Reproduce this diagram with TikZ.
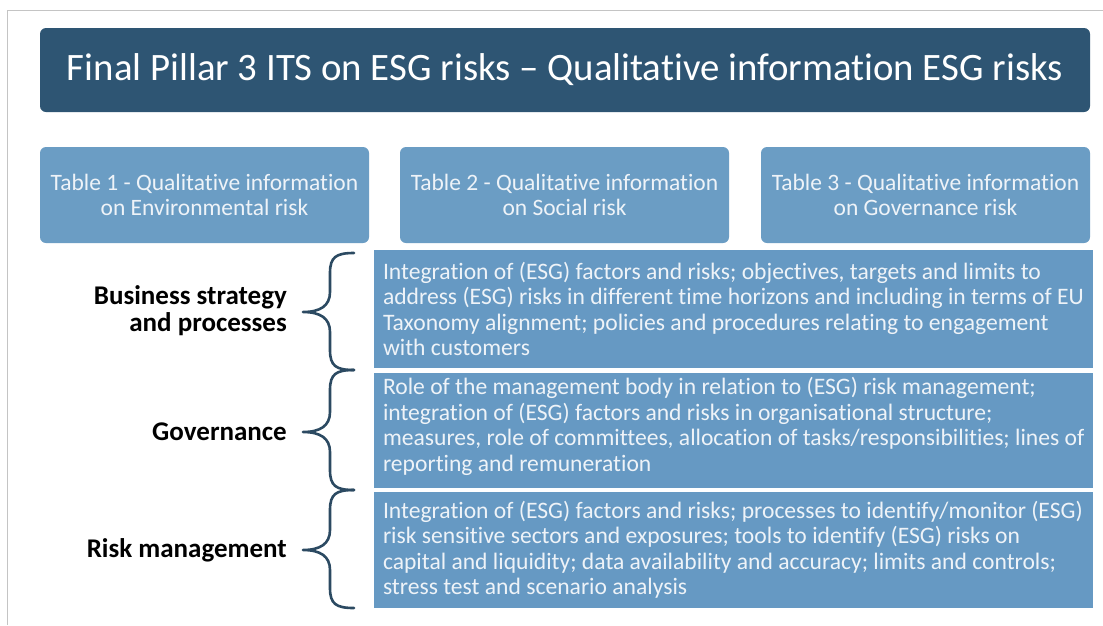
\documentclass[tikz,border=0pt]{standalone}
\usepackage{fontspec}
\setmainfont{Carlito}[Ligatures=NoCommon]
\begin{document}
\begin{tikzpicture}[x=1pt,y=-1pt,
  titlebox/.style={fill=titleblue, rounded corners=6pt, text=white, font=\fontsize{38.8}{44}\selectfont, inner sep=0pt},
  tablebox/.style={fill=tableblue, rounded corners=6pt, text=paletext, font=\fontsize{23.5}{25}\selectfont, align=center, inner sep=0pt},
  rowbox/.style={fill=rowblue, inner sep=0pt},
  rowtext/.style={text=paletext, font=\fontsize{23.6}{25.5}\selectfont, align=left, anchor=west, inner sep=0pt},
  rowlabel/.style={font=\bfseries\fontsize{27}{27}\selectfont, align=right, anchor=east, inner sep=0pt},
  bracestroke/.style={draw=bracecol, line width=2.6pt, line cap=round, line join=round},
]
\definecolor{titleblue}{HTML}{2E5573}
\definecolor{tableblue}{HTML}{6B9DC4}
\definecolor{rowblue}{HTML}{6699C3}
\definecolor{paletext}{HTML}{EEF3F8}
\definecolor{bracecol}{HTML}{2C4A62}
\definecolor{framegray}{HTML}{C4C4C4}
\useasboundingbox (0,0) rectangle (1103,625);
\fill[white] (0,0) rectangle (1103,625);
% page frame
\draw[framegray, line width=1.5pt] (7.5,625) -- (7.5,10.5) -- (1103,10.5);

% title banner
\node[titlebox, minimum width=1050pt, minimum height=84pt] (title) at (565,70)
  {Final Pillar 3 ITS on ESG risks – Qualitative information ESG risks};

% table headers
\node[tablebox, minimum width=329pt, minimum height=96pt] (t1) at (204.5,195)
  {Table 1 - Qualitative information\\on Environmental risk};
\node[tablebox, minimum width=329pt, minimum height=96pt] (t2) at (564.5,195)
  {Table 2 - Qualitative information\\on Social risk};
\node[tablebox, minimum width=329pt, minimum height=96pt] (t3) at (925.5,195)
  {Table 3 - Qualitative information\\on Governance risk};

% content rows
\node[rowbox, minimum width=719pt, minimum height=118pt] (r1) at (733.5,309) {};
\node[rowbox, minimum width=719pt, minimum height=115pt] (r2) at (733.5,430.5) {};
\node[rowbox, minimum width=719pt, minimum height=116pt] (r3) at (733.5,550) {};

\node[rowtext] (r1text) at ([xshift=9pt]r1.west)
  {Integration of (ESG) factors and risks; objectives, targets and limits to\\
   address (ESG) risks in different time horizons and including in terms of EU\\
   Taxonomy alignment; policies and procedures relating to engagement\\
   with customers};
\node[rowtext] (r2text) at ([xshift=9pt,yshift=4pt]r2.west)
  {Role of the management body in relation to (ESG) risk management;\\
   integration of (ESG) factors and risks in organisational structure;\\
   measures, role of committees, allocation of tasks/responsibilities; lines of\\
   reporting and remuneration};
\node[rowtext] (r3text) at ([xshift=9pt]r3.west)
  {Integration of (ESG) factors and risks; processes to identify/monitor (ESG)\\
   risk sensitive sectors and exposures; tools to identify (ESG) risks on\\
   capital and liquidity; data availability and accuracy; limits and controls;\\
   stress test and scenario analysis};

% row labels
\node[rowlabel] (l1) at (287,311) {Business strategy\\and processes};
\node[rowlabel] (l2) at (287,432) {Governance};
\node[rowlabel] (l3) at (287,550) {Risk management};

% curly braces between labels and rows: top, tip, bottom
\foreach \ytop/\ytip/\ybot in {253/312/370, 370/432/490, 490/550/608}{
  \draw[bracestroke]
    (354,\ytop) .. controls (336,\ytop) and (330,\ytop+4) .. (330,\ytop+20)
    -- (330,\ytip-20) .. controls (330,\ytip-6) and (320,\ytip) .. (303,\ytip)
    .. controls (320,\ytip) and (330,\ytip+6) .. (330,\ytip+20)
    -- (330,\ybot-20) .. controls (330,\ybot-4) and (336,\ybot) .. (354,\ybot);
}
\end{tikzpicture}
\end{document}
